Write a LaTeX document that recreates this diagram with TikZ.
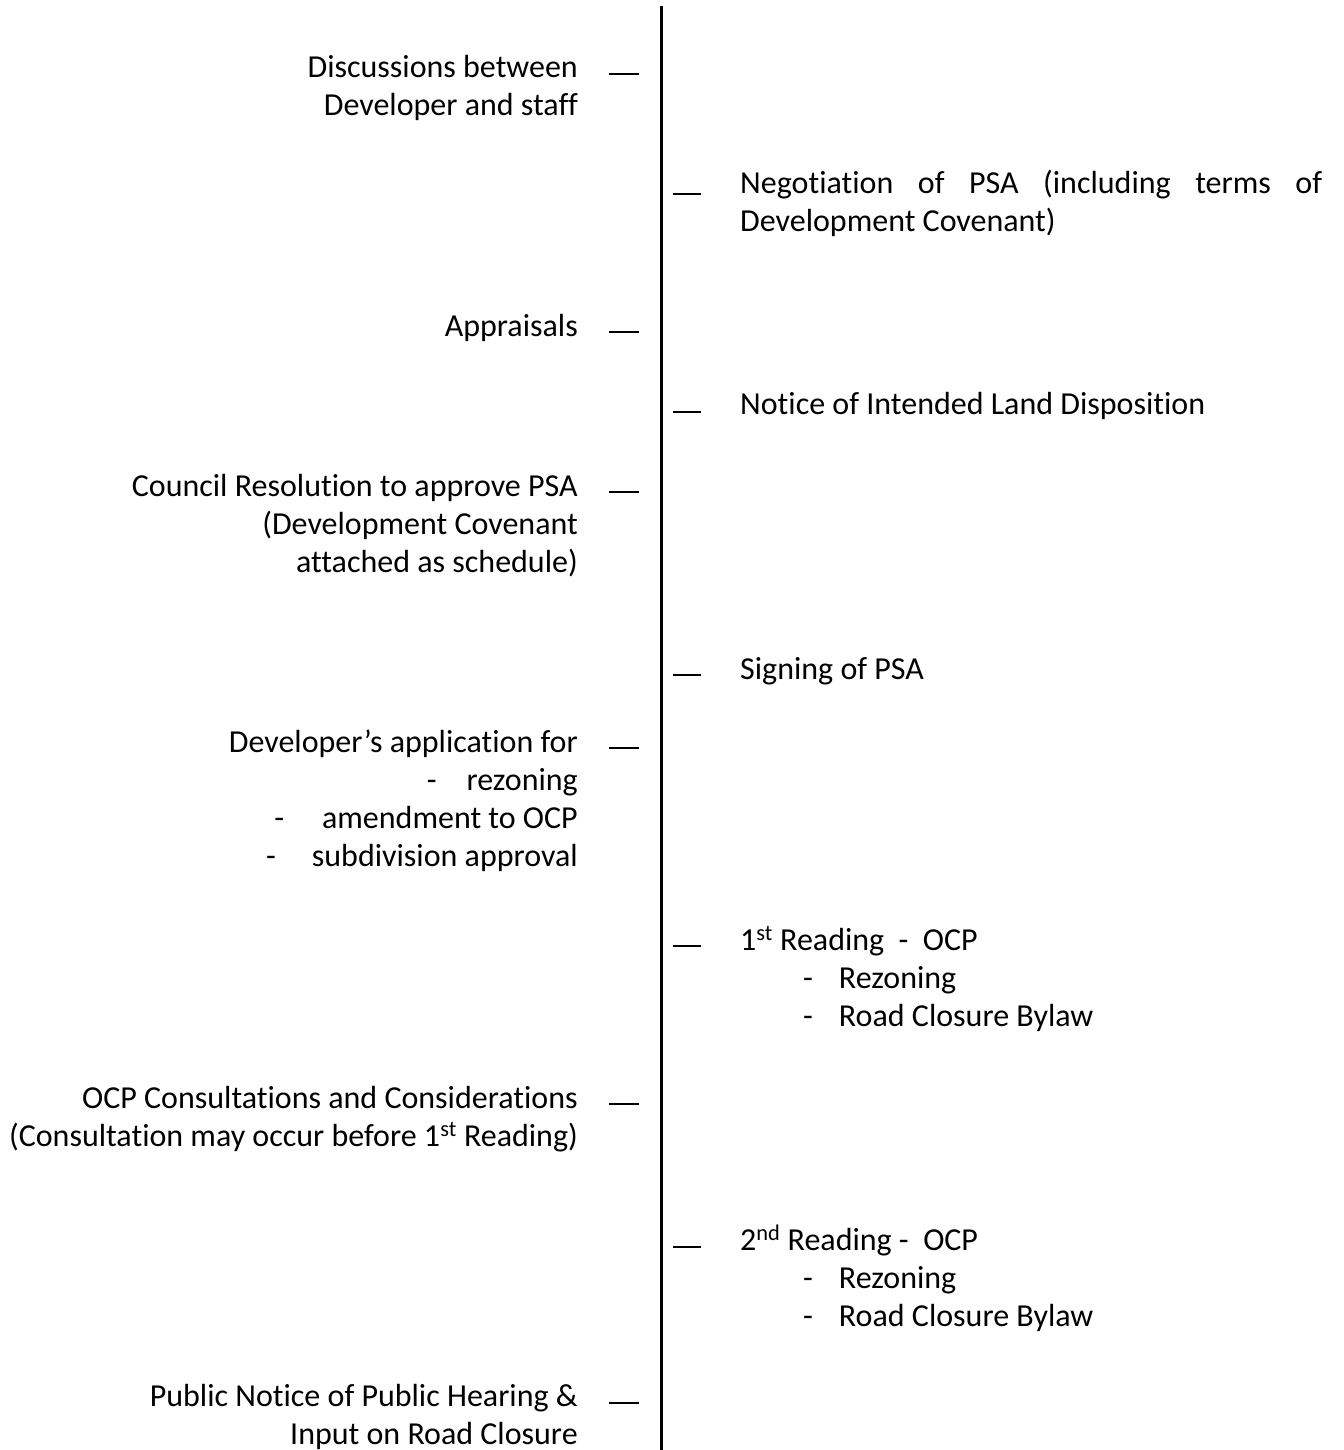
\documentclass[tikz,border=0pt]{standalone}
\usepackage{fontspec}
\setmainfont[Ligatures=NoCommon]{Carlito}
\begin{document}
\begin{tikzpicture}[x=1pt, y=-1pt,
    spine/.style={line width=3pt},
    tick/.style={line width=2pt},
    lefttext/.style={anchor=base east, inner sep=0pt, align=right, font=\fontsize{32}{38}\selectfont},
    righttext/.style={anchor=base west, inner sep=0pt, align=left, font=\fontsize{32}{38}\selectfont}]
\useasboundingbox (0,0) rectangle (1343,1450);
% time line
\draw[spine] (661,6) -- (661,1452);
% left ticks
\foreach \y in {74, 332, 492, 748, 1104, 1403}
    \draw[tick] (609,\y) -- (639,\y);
% right ticks
\foreach \y in {194, 412, 675, 946, 1247}
    \draw[tick] (673,\y) -- (701,\y);
% left column (anchored at the baseline of the last line)
\node[lefttext] (discuss) at (578,116) {Discussions between\\Developer and staff};
\node[lefttext] (apprais) at (578,336) {Appraisals};
\node[lefttext] (council) at (578,572) {Council Resolution to approve PSA\\(Development Covenant\\attached as schedule)};
\node[lefttext] (devapp) at (578,866) {Developer’s application for\\
    -\hspace{30pt}rezoning\\
    -\hspace{38pt}amendment to OCP\\
    -\hspace{36pt}subdivision approval};
\node[lefttext] (ocpcons) at (578,1146) {OCP Consultations and Considerations\\(Consultation may occur before 1\textsuperscript{st} Reading)};
\node[lefttext] (pubnot) at (578,1444) {Public Notice of Public Hearing \&\\Input on Road Closure};
% right column
\node[righttext] (negot) at (740,231) {\makebox[582pt][s]{Negotiation of PSA (including terms of}\\Development Covenant)};
\node[righttext] (notice) at (740,414) {Notice of Intended Land Disposition};
\node[righttext] (signing) at (740,679) {Signing of PSA};
\node[righttext] (first) at (740,1026) {1\textsuperscript{st} Reading\ \ -\ \ OCP\\
    \hspace*{63pt}-\hspace{26pt}Rezoning\\
    \hspace*{63pt}-\hspace{26pt}Road Closure Bylaw};
\node[righttext] (second) at (740,1326) {2\textsuperscript{nd} Reading -\ \ OCP\\
    \hspace*{63pt}-\hspace{26pt}Rezoning\\
    \hspace*{63pt}-\hspace{26pt}Road Closure Bylaw};
\end{tikzpicture}
\end{document}
